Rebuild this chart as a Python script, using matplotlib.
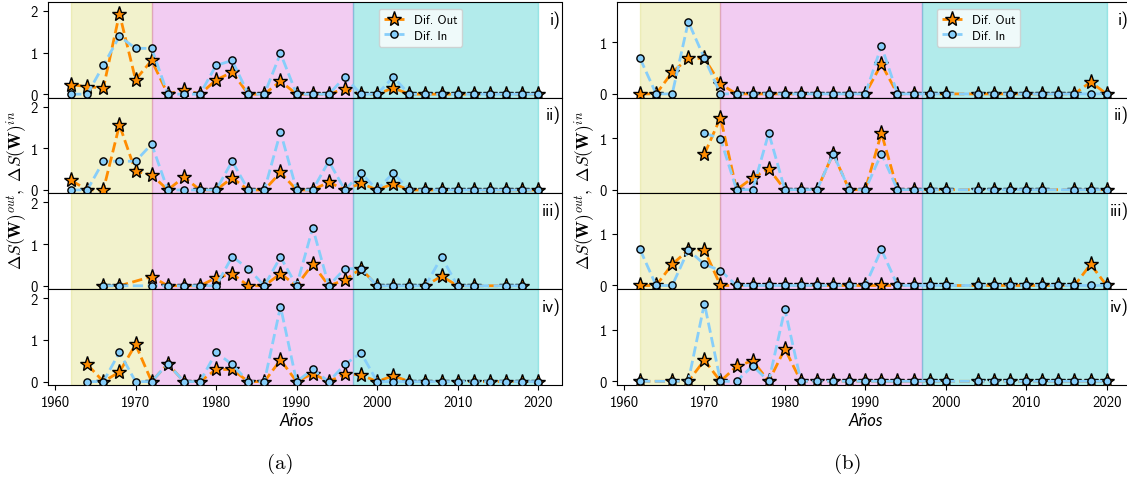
import matplotlib
matplotlib.use("Agg")
import matplotlib.pyplot as plt
import numpy as np

plt.rcParams['font.family'] = ['cmss10', 'DejaVu Sans']
plt.rcParams['mathtext.fontset'] = 'cm'
plt.rcParams['axes.unicode_minus'] = False

years = list(range(1962, 2021, 2))
N = None

# Panel (a)
a_out_i = [0.23, 0.18, 0.15, 1.93, 0.35, 0.81, 0, 0.11, 0, 0.34, 0.53, 0, 0, 0.31, 0,
           0, 0, 0.13, 0, 0, 0.15, 0, 0, 0, 0, 0, 0, 0, 0, 0]
a_in_i = [0, 0, 0.69, 1.39, 1.10, 1.10, 0, 0, 0, 0.69, 0.81, 0, 0, 0.98, 0,
          0, 0, 0.41, 0, 0, 0.41, 0, 0, 0, 0, 0, 0, 0, 0, 0]
a_out_ii = [0.23, 0, 0, 1.56, 0.45, 0.36, 0, 0.31, 0, 0, 0.29, 0, 0, 0.42, 0,
            0, 0.19, 0, 0.16, 0, 0.15, 0, 0, 0, 0, 0, 0, 0, 0, 0]
a_in_ii = [0, 0, 0.69, 0.69, 0.69, 1.10, 0, 0, 0, 0, 0.69, 0, 0, 1.39, 0,
           0, 0.69, 0, 0.41, 0, 0.41, 0, 0, 0, 0, 0, 0, 0, 0, 0]
a_out_iii = [N, N, 0, 0, N, 0.22, 0, 0, 0, 0.19, 0.29, 0, 0, 0.29, 0,
             0.52, 0, 0.14, 0.41, 0, 0, 0, 0, 0.23, 0, 0, N, 0, 0, N]
a_in_iii = [N, N, 0, 0, N, 0, 0, 0, 0, 0, 0.70, 0.41, 0, 0.69, 0,
            1.39, 0, 0.41, 0.41, 0, 0, 0, 0, 0.69, 0, 0, N, 0, 0, N]
a_out_iv = [N, 0.41, 0, 0.23, 0.89, 0, 0.43, 0, 0, 0.29, 0.29, 0, 0, 0.52, 0,
            0.19, 0, 0.19, 0.16, 0, 0.14, 0, 0, 0, 0, 0, 0, 0, 0, 0]
a_in_iv = [N, 0, 0, 0.70, 0, 0, 0.43, 0, 0, 0.70, 0.41, 0, 0, 1.80, 0,
           0.29, 0, 0.41, 0.69, 0, 0, 0, 0, 0, 0, 0, 0, 0, 0, 0]

# Panel (b)
b_out_i = [0, 0, 0.42, 0.69, 0.69, 0.19, 0, 0, 0, 0, 0, 0, 0, 0, 0,
           0.58, 0, 0, 0, 0, N, 0, 0, 0, 0, 0, 0, 0, 0.23, 0]
b_in_i = [0.69, 0, 0, 1.40, 0.69, 0, 0, 0, 0, 0, 0, 0, 0, 0, 0,
          0.93, 0, 0, 0, 0, N, 0, 0, 0, 0, 0, 0, 0, 0, 0]
b_out_ii = [N, N, N, N, 0.69, 1.40, 0, 0.23, 0.41, 0, 0, 0, 0.70, 0, 0,
            1.10, 0, 0, 0, 0, N, 0, 0, 0, 0, 0, N, 0, 0, 0]
b_in_ii = [N, N, N, N, 1.10, 0.99, 0, 0, 1.10, 0, 0, 0, 0.70, 0, 0,
           0.70, 0, 0, 0, 0, N, 0, 0, 0, 0, 0, N, 0, 0, 0]
b_out_iii = [0, 0, 0.41, 0.69, 0.69, 0, 0, 0, 0, 0, 0, 0, 0, 0, 0,
             0, 0, 0, 0, 0, N, 0, 0, 0, 0, 0, 0, 0, 0.41, 0]
b_in_iii = [0.70, 0, 0, 0.69, 0.41, 0.29, 0, 0, 0, 0, 0, 0, 0, 0, 0,
            0.70, 0, 0, 0, 0, N, 0, 0, 0, 0, 0, 0, 0, 0, 0]
b_out_iv = [0, N, 0, 0, 0.41, 0, 0.29, 0.40, 0, 0.63, 0, 0, 0, 0, 0,
            0, 0, 0, 0, 0, N, 0, 0, 0, 0, 0, 0, 0, 0, 0]
b_in_iv = [0, N, 0, 0, 1.51, 0, 0, 0.30, 0, 1.40, 0, 0, 0, 0, 0,
           0, 0, 0, 0, 0, N, 0, 0, 0, 0, 0, 0, 0, 0, 0]

panel_a = [(a_out_i, a_in_i), (a_out_ii, a_in_ii), (a_out_iii, a_in_iii), (a_out_iv, a_in_iv)]
panel_b = [(b_out_i, b_in_i), (b_out_ii, b_in_ii), (b_out_iii, b_in_iii), (b_out_iv, b_in_iv)]
roman = ['i)', 'ii)', 'iii)', 'iv)']
periods = [(1962, 1972, 'y', 0.2), (1972, 1997, 'm', 0.2), (1997, 2020, 'c', 0.3)]
xticks = [1960, 1970, 1980, 1990, 2000, 2010, 2020]

W, H = 1127, 481
fig = plt.figure(figsize=(W / 100, H / 100), dpi=100)

def valid(vals):
    xs = [x for x, v in zip(years, vals) if v is not None]
    ys = [v for v in vals if v is not None]
    return xs, ys

def draw_panel(panel, left_px, right_px, ylim, yticks, legend_x):
    top_px, h_px = 2.7, 95.8
    axes = []
    for k, (vout, vin) in enumerate(panel):
        t = top_px + k * h_px
        ax = fig.add_axes([left_px / W, 1 - (t + h_px) / H, (right_px - left_px) / W, h_px / H])
        for (x0, x1, c, a) in periods:
            ax.axvspan(x0, x1, color=c, alpha=a, zorder=0)
        xo, yo = valid(vout)
        xi, yi = valid(vin)
        ax.plot(xo, yo, ls='--', color='darkorange', lw=2, marker='*', ms=11,
                mfc='darkorange', mec='black', mew=1, label='Dif. Out', zorder=3)
        ax.plot(xi, yi, ls='--', color='lightskyblue', lw=2, marker='o', ms=5.2,
                mfc='lightskyblue', mec='black', mew=1, label='Dif. In', zorder=4)
        ax.set_xlim(1959.1, 2022.9)
        ax.set_ylim(*ylim)
        ax.set_yticks(yticks)
        ax.set_xticks(xticks)
        ax.tick_params(labelsize=10.5)
        if k < 3:
            ax.tick_params(axis='x', labelbottom=False, length=0)
        ax.text(0.998, 0.82, roman[k], transform=ax.transAxes, ha='right', va='center',
                fontsize=12.5)
        if k == 0:
            ax.legend(loc='upper left', bbox_to_anchor=(legend_x, 0.99), fontsize=9,
                      handlelength=1.6, borderpad=0.4, labelspacing=0.3)
        axes.append(ax)
    return axes

draw_panel(panel_a, 47.8, 561.5, (-0.08, 2.22), [0, 1, 2], 0.632)
draw_panel(panel_b, 616.7, 1130.0, (-0.07, 1.79), [0, 1], 0.611)

ylabel = r'$\Delta S(\mathbf{W})^{out},\ \Delta S(\mathbf{W})^{in}$'
fig.text(17 / W, 1 - 190 / H, ylabel, rotation=90, ha='center', va='center', fontsize=12.5)
fig.text(585 / W, 1 - 190 / H, ylabel, rotation=90, ha='center', va='center', fontsize=12.5)

fig.text(297 / W, 1 - 421 / H, 'Años', ha='center', va='center', fontsize=12,
         family='Lato', style='italic')
fig.text(866 / W, 1 - 421 / H, 'Años', ha='center', va='center', fontsize=12,
         family='Lato', style='italic')

fig.text(280 / W, 1 - 464 / H, '(a)', ha='center', va='center', fontsize=15, family='cmr10')
fig.text(848 / W, 1 - 464 / H, '(b)', ha='center', va='center', fontsize=15, family='cmr10')

fig.savefig('out.png', dpi=100)
